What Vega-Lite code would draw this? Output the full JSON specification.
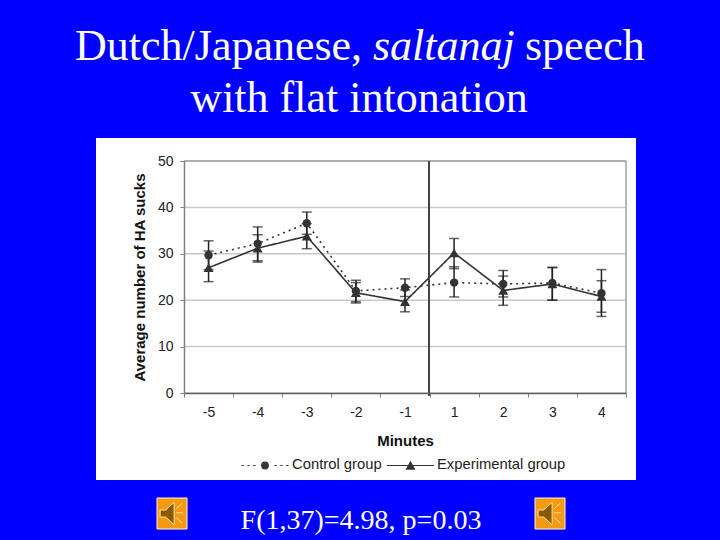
{
  "$schema": "https://vega.github.io/schema/vega-lite/v6.json",
  "width": 442,
  "height": 232,
  "autosize": {"type": "none"},
  "padding": {"left": 184, "top": 161, "right": 94, "bottom": 147},
  "background": "#0000FF",
  "config": {"view": {"stroke": null}, "font": "Liberation Sans"},
  "datasets": {
    "sucks": [
      {"minute": -5, "group": "Control group", "mean": 29.7, "low": 26.6, "high": 32.8},
      {"minute": -4, "group": "Control group", "mean": 32.2, "low": 28.5, "high": 35.8},
      {"minute": -3, "group": "Control group", "mean": 36.6, "low": 34.2, "high": 39},
      {"minute": -2, "group": "Control group", "mean": 22, "low": 19.7, "high": 24.3},
      {"minute": -1, "group": "Control group", "mean": 22.7, "low": 20.8, "high": 24.6},
      {"minute": 1, "group": "Control group", "mean": 23.8, "low": 20.7, "high": 27.2},
      {"minute": 2, "group": "Control group", "mean": 23.5, "low": 20.7, "high": 26.4},
      {"minute": 3, "group": "Control group", "mean": 23.7, "low": 20, "high": 27.1},
      {"minute": 4, "group": "Control group", "mean": 21.5, "low": 16.5, "high": 26.6},
      {"minute": -5, "group": "Experimental group", "mean": 27, "low": 24, "high": 30.6},
      {"minute": -4, "group": "Experimental group", "mean": 31.2, "low": 28.2, "high": 34.1},
      {"minute": -3, "group": "Experimental group", "mean": 33.8, "low": 31.1, "high": 36.5},
      {"minute": -2, "group": "Experimental group", "mean": 21.6, "low": 19.4, "high": 23.8},
      {"minute": -1, "group": "Experimental group", "mean": 19.7, "low": 17.5, "high": 22.2},
      {"minute": 1, "group": "Experimental group", "mean": 30.2, "low": 26.8, "high": 33.3},
      {"minute": 2, "group": "Experimental group", "mean": 22.1, "low": 18.9, "high": 25.2},
      {"minute": 3, "group": "Experimental group", "mean": 23.5, "low": 20, "high": 27},
      {"minute": 4, "group": "Experimental group", "mean": 20.8, "low": 17.4, "high": 24.2}
    ],
    "grid": [{"tick": 0}, {"tick": 10}, {"tick": 20}, {"tick": 30}, {"tick": 40}, {"tick": 50}]
  },
  "resolve": {"scale": {"x": "independent", "y": "independent"}},
  "layer": [
    {
      "data": {"values": [{}]},
      "layer": [
        {
          "mark": {"type": "rect", "fill": "white", "clip": false},
          "encoding": {
            "x": {"datum": 96, "type": "quantitative", "axis": null, "scale": {"domain": [0, 720], "range": [-184, 536]}},
            "x2": {"datum": 636},
            "y": {"datum": 138, "type": "quantitative", "axis": null, "scale": {"domain": [0, 540], "range": [-161, 379]}},
            "y2": {"datum": 480}
          }
        },
        {
          "mark": {"type": "text", "text": "Dutch/Japanese,", "font": "Liberation Serif", "fontSize": 44, "color": "white", "align": "left", "baseline": "alphabetic"},
          "encoding": {
            "x": {"datum": 75, "type": "quantitative", "axis": null, "scale": {"domain": [0, 720], "range": [-184, 536]}},
            "y": {"datum": 60, "type": "quantitative", "axis": null, "scale": {"domain": [0, 540], "range": [-161, 379]}}
          }
        },
        {
          "mark": {"type": "text", "text": "saltanaj", "font": "Liberation Serif", "fontStyle": "italic", "fontSize": 44, "color": "white", "align": "left", "baseline": "alphabetic"},
          "encoding": {
            "x": {"datum": 373, "type": "quantitative", "axis": null, "scale": {"domain": [0, 720], "range": [-184, 536]}},
            "y": {"datum": 60, "type": "quantitative", "axis": null, "scale": {"domain": [0, 540], "range": [-161, 379]}}
          }
        },
        {
          "mark": {"type": "text", "text": "speech", "font": "Liberation Serif", "fontSize": 44, "color": "white", "align": "left", "baseline": "alphabetic"},
          "encoding": {
            "x": {"datum": 525, "type": "quantitative", "axis": null, "scale": {"domain": [0, 720], "range": [-184, 536]}},
            "y": {"datum": 60, "type": "quantitative", "axis": null, "scale": {"domain": [0, 540], "range": [-161, 379]}}
          }
        },
        {
          "mark": {"type": "text", "text": "with flat intonation", "font": "Liberation Serif", "fontSize": 44, "color": "white", "align": "center", "baseline": "alphabetic"},
          "encoding": {
            "x": {"datum": 359, "type": "quantitative", "axis": null, "scale": {"domain": [0, 720], "range": [-184, 536]}},
            "y": {"datum": 112, "type": "quantitative", "axis": null, "scale": {"domain": [0, 540], "range": [-161, 379]}}
          }
        },
        {
          "mark": {"type": "text", "text": "F(1,37)=4.98, p=0.03", "font": "Liberation Serif", "fontSize": 28, "color": "white", "align": "center", "baseline": "alphabetic"},
          "encoding": {
            "x": {"datum": 361, "type": "quantitative", "axis": null, "scale": {"domain": [0, 720], "range": [-184, 536]}},
            "y": {"datum": 529, "type": "quantitative", "axis": null, "scale": {"domain": [0, 540], "range": [-161, 379]}}
          }
        },
        {
          "mark": {"type": "rect", "fill": "#F39A12", "stroke": "#FFF4D8", "strokeWidth": 1},
          "encoding": {
            "x": {"datum": 157, "type": "quantitative", "axis": null, "scale": {"domain": [0, 720], "range": [-184, 536]}},
            "x2": {"datum": 187},
            "y": {"datum": 498, "type": "quantitative", "axis": null, "scale": {"domain": [0, 540], "range": [-161, 379]}},
            "y2": {"datum": 529}
          }
        },
        {
          "mark": {"type": "rect", "fill": "#F39A12", "stroke": "#FFF4D8", "strokeWidth": 1},
          "encoding": {
            "x": {"datum": 535, "type": "quantitative", "axis": null, "scale": {"domain": [0, 720], "range": [-184, 536]}},
            "x2": {"datum": 565},
            "y": {"datum": 498, "type": "quantitative", "axis": null, "scale": {"domain": [0, 540], "range": [-161, 379]}},
            "y2": {"datum": 529}
          }
        },
        {
          "mark": {"type": "point", "filled": true, "shape": "M-.85,-.25L-.45,-.25L.15,-.8L.15,.8L-.45,.25L-.85,.25ZM.3,-.05L.8,-.05M.3,-.35L.75,-.75M.3,.3L.75,.7", "size": 784, "fill": "#8A5A00", "stroke": "#FFE3A8", "strokeWidth": 1, "opacity": 1},
          "encoding": {
            "x": {"datum": 172, "type": "quantitative", "axis": null, "scale": {"domain": [0, 720], "range": [-184, 536]}},
            "y": {"datum": 513.5, "type": "quantitative", "axis": null, "scale": {"domain": [0, 540], "range": [-161, 379]}}
          }
        },
        {
          "mark": {"type": "point", "filled": true, "shape": "M-.85,-.25L-.45,-.25L.15,-.8L.15,.8L-.45,.25L-.85,.25ZM.3,-.05L.8,-.05M.3,-.35L.75,-.75M.3,.3L.75,.7", "size": 784, "fill": "#8A5A00", "stroke": "#FFE3A8", "strokeWidth": 1, "opacity": 1},
          "encoding": {
            "x": {"datum": 550, "type": "quantitative", "axis": null, "scale": {"domain": [0, 720], "range": [-184, 536]}},
            "y": {"datum": 513.5, "type": "quantitative", "axis": null, "scale": {"domain": [0, 540], "range": [-161, 379]}}
          }
        },
        {
          "mark": {"type": "point", "filled": true, "shape": "M-1,0L-.9,0M-.75,0L-.65,0M-.5,0L-.4,0M.4,0L.5,0M.65,0L.75,0M.9,0L1,0M-.14,0A.14,.14 0 1,1 .14,0A.14,.14 0 1,1 -.14,0Z", "size": 2209, "fill": "#333333", "stroke": "#333333", "strokeWidth": 1.2, "opacity": 1},
          "encoding": {
            "x": {"datum": 265, "type": "quantitative", "axis": null, "scale": {"domain": [0, 720], "range": [-184, 536]}},
            "y": {"datum": 465.5, "type": "quantitative", "axis": null, "scale": {"domain": [0, 540], "range": [-161, 379]}}
          }
        },
        {
          "mark": {"type": "point", "filled": true, "shape": "M-1,0L1,0M0,-.15L.17,.15L-.17,.15Z", "size": 2209, "fill": "#333333", "stroke": "#333333", "strokeWidth": 1.2, "opacity": 1},
          "encoding": {
            "x": {"datum": 410.5, "type": "quantitative", "axis": null, "scale": {"domain": [0, 720], "range": [-184, 536]}},
            "y": {"datum": 465.5, "type": "quantitative", "axis": null, "scale": {"domain": [0, 540], "range": [-161, 379]}}
          }
        },
        {
          "mark": {"type": "text", "text": "Control group", "fontSize": 14.8, "color": "#222222", "align": "left", "baseline": "middle"},
          "encoding": {
            "x": {"datum": 292, "type": "quantitative", "axis": null, "scale": {"domain": [0, 720], "range": [-184, 536]}},
            "y": {"datum": 465, "type": "quantitative", "axis": null, "scale": {"domain": [0, 540], "range": [-161, 379]}}
          }
        },
        {
          "mark": {"type": "text", "text": "Experimental group", "fontSize": 14.8, "color": "#222222", "align": "left", "baseline": "middle"},
          "encoding": {
            "x": {"datum": 437, "type": "quantitative", "axis": null, "scale": {"domain": [0, 720], "range": [-184, 536]}},
            "y": {"datum": 465, "type": "quantitative", "axis": null, "scale": {"domain": [0, 540], "range": [-161, 379]}}
          }
        }
      ]
    },
    {
      "data": {"name": "grid"},
      "mark": {"type": "rule", "stroke": "#c8c8c8", "strokeWidth": 1.5},
      "encoding": {
        "y": {"field": "tick", "type": "quantitative", "axis": null, "scale": {"domain": [0, 50], "nice": false}}
      }
    },
    {
      "data": {"values": [{}]},
      "layer": [
        {
          "mark": {"type": "rule", "stroke": "#a0a0a0", "strokeWidth": 1.5},
          "encoding": {
            "x": {"datum": 184, "type": "quantitative", "axis": null, "scale": {"domain": [0, 720], "range": [-184, 536]}},
            "x2": {"datum": 626},
            "y": {"datum": 161, "type": "quantitative", "axis": null, "scale": {"domain": [0, 540], "range": [-161, 379]}}
          }
        },
        {
          "mark": {"type": "rule", "stroke": "#a0a0a0", "strokeWidth": 1.5},
          "encoding": {
            "x": {"datum": 626, "type": "quantitative", "axis": null, "scale": {"domain": [0, 720], "range": [-184, 536]}},
            "y": {"datum": 161, "type": "quantitative", "axis": null, "scale": {"domain": [0, 540], "range": [-161, 379]}},
            "y2": {"datum": 393}
          }
        },
        {
          "mark": {"type": "rule", "stroke": "#444444", "strokeWidth": 2},
          "encoding": {
            "x": {"datum": 429, "type": "quantitative", "axis": null, "scale": {"domain": [0, 720], "range": [-184, 536]}},
            "y": {"datum": 161, "type": "quantitative", "axis": null, "scale": {"domain": [0, 540], "range": [-161, 379]}},
            "y2": {"datum": 396}
          }
        }
      ]
    },
    {
      "data": {"name": "sucks"},
      "encoding": {
        "x": {
          "field": "minute",
          "type": "ordinal",
          "title": "Minutes",
          "scale": {"type": "band", "domain": [-5, -4, -3, -2, -1, 1, 2, 3, 4], "paddingInner": 0, "paddingOuter": 0},
          "axis": {
            "zindex": 1,
            "tickBand": "extent",
            "labelAngle": 0,
            "labelFont": "Liberation Sans",
            "labelFontSize": 14,
            "labelColor": "#222222",
            "labelPadding": 8,
            "tickColor": "#808080",
            "tickSize": 4,
            "domainColor": "#606060",
            "domainWidth": 1.5,
            "titleFont": "Liberation Sans",
            "titleFontSize": 15,
            "titleFontWeight": "bold",
            "titleColor": "#111111",
            "titlePadding": 14
          }
        },
        "y": {
          "field": "mean",
          "type": "quantitative",
          "title": "Average number of HA sucks",
          "scale": {"domain": [0, 50], "nice": false},
          "axis": {
            "zindex": 1,
            "grid": false,
            "values": [0, 10, 20, 30, 40, 50],
            "labelFont": "Liberation Sans",
            "labelFontSize": 14,
            "labelColor": "#222222",
            "labelPadding": 7,
            "tickColor": "#808080",
            "tickSize": 4,
            "domainColor": "#808080",
            "domainWidth": 1.5,
            "titleFont": "Liberation Sans",
            "titleFontSize": 15,
            "titleFontWeight": "bold",
            "titleColor": "#111111",
            "titlePadding": 10
          }
        }
      },
      "layer": [
        {
          "mark": {"type": "line", "stroke": "#333333", "strokeWidth": 1.6},
          "encoding": {
            "detail": {"field": "group"},
            "strokeDash": {"field": "group", "type": "nominal", "legend": null, "scale": {"domain": ["Control group", "Experimental group"], "range": [[2, 4], [1, 0]]}}
          }
        },
        {
          "mark": {"type": "errorbar", "ticks": {"size": 10, "color": "#222222", "thickness": 1.5}, "rule": {"color": "#222222", "strokeWidth": 1.5}},
          "encoding": {
            "detail": {"field": "group"},
            "y": {"field": "low", "type": "quantitative", "title": "Average number of HA sucks", "scale": {"domain": [0, 50], "nice": false}},
            "y2": {"field": "high"}
          }
        },
        {
          "transform": [{"filter": "datum.group == 'Control group'"}],
          "mark": {"type": "point", "filled": true, "shape": "circle", "size": 70, "color": "#333333", "opacity": 1}
        },
        {
          "transform": [{"filter": "datum.group == 'Experimental group'"}],
          "mark": {"type": "point", "filled": true, "shape": "triangle-up", "size": 100, "color": "#333333", "opacity": 1}
        }
      ]
    }
  ]
}
